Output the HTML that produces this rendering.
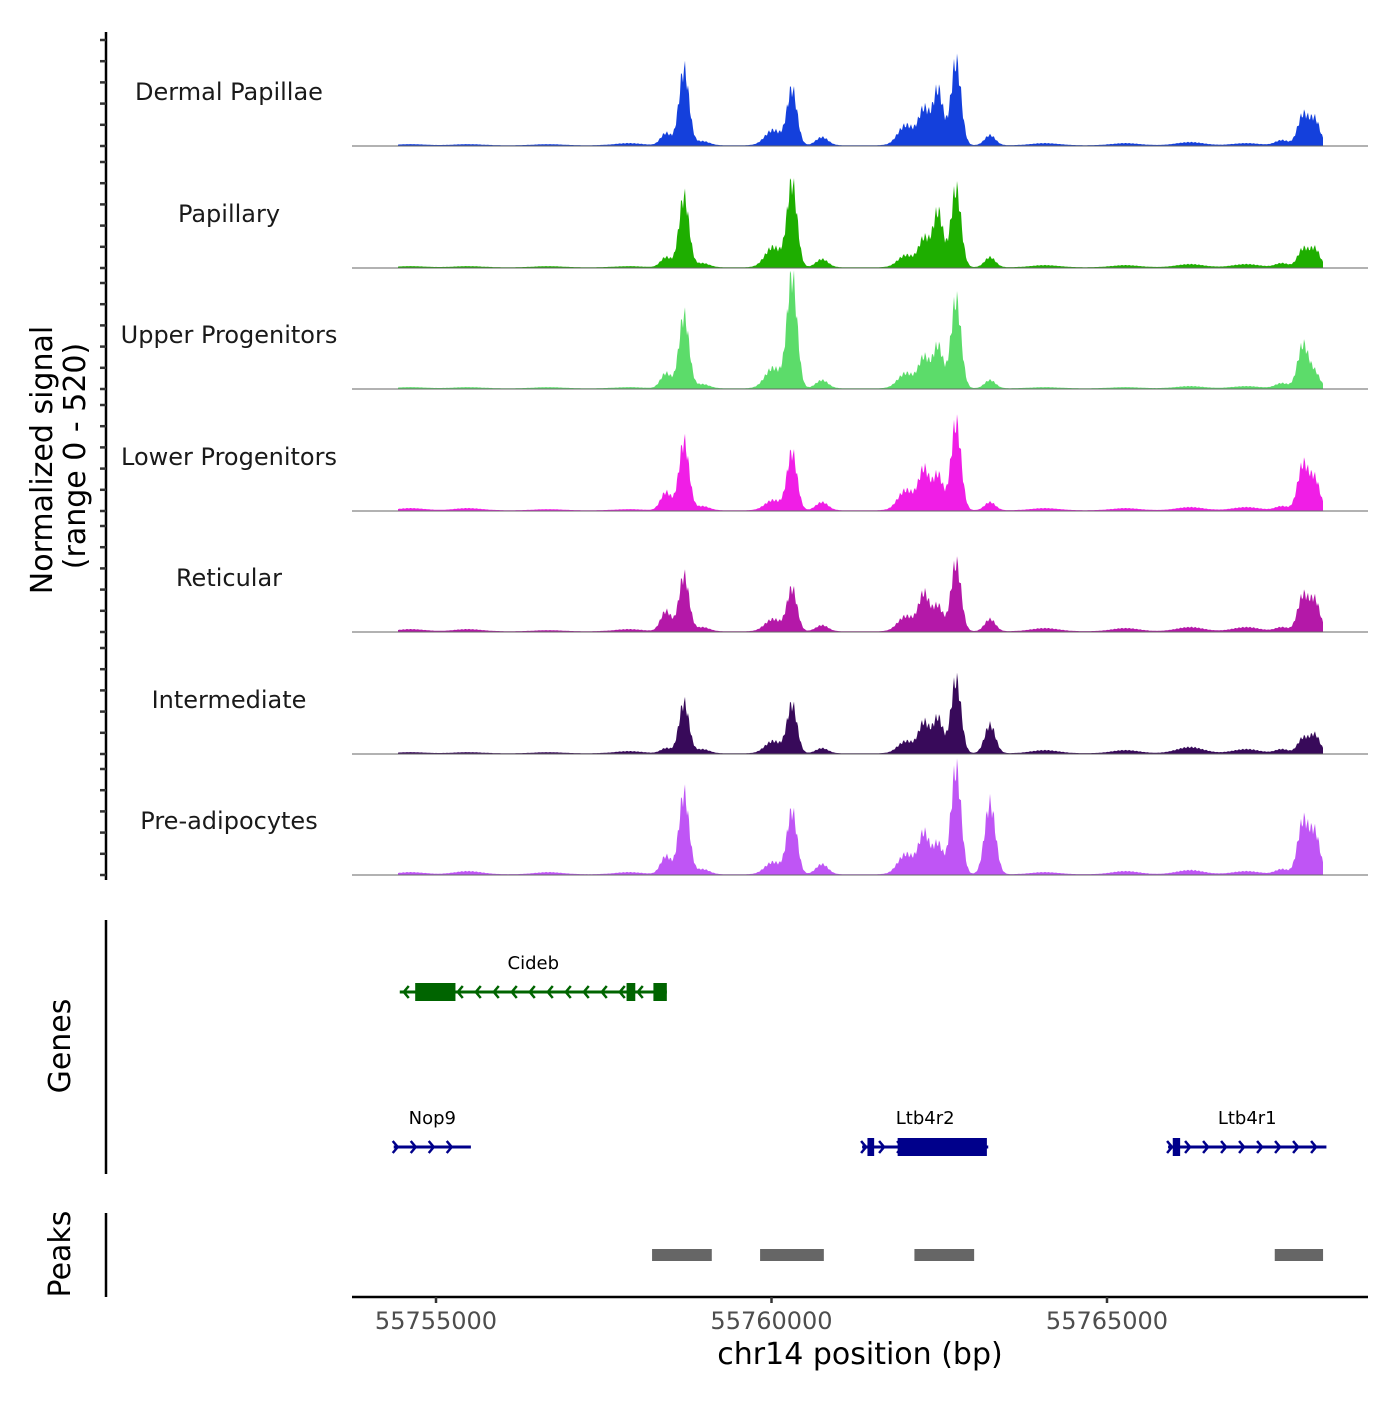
<!DOCTYPE html>
<html><head><meta charset="utf-8"><style>
body{margin:0;background:#fff;}
svg text{font-family:"DejaVu Sans","Liberation Sans",sans-serif;}
</style></head><body>
<svg id="chart" width="1400" height="1400" xmlns="http://www.w3.org/2000/svg">
<g id="tracks"></g>
<g id="genes"></g>
<g id="peaks"></g>
<g id="axes"></g>
</svg>
<script>
const trackNames = ["Dermal Papillae","Papillary","Upper Progenitors","Lower Progenitors","Reticular","Intermediate","Pre-adipocytes"];
const trackColors = ["#1440dc","#1eae00","#5cdc6a","#f01ee6","#b418a8","#380a5a","#bf55f5"];
const peakCenters = [55753075,55754625,55755475,55756675,55757875,55758428,55758696,55758975,55760023,55760306,55760753,55762005,55762273,55762482,55762750,55763257,55764075,55765275,55766237,55767075,55767608,55767921,55768100];
const dermal =  [1,1,1,1,2,12,75,4,15,55,8,20,35,55,83,10,2,2,3,2,5,30,25];
const papillary=[1,1,1,1,1,10,70,4,20,83,8,12,28,55,78,10,2,2,3,3,4,18,18];
const upper =   [1,1,1,1,1,15,72,4,20,110,8,15,30,42,88,8,1,1,2,2,5,43,15];
const lower =   [1,2,2,1,1,18,68,4,10,57,8,20,40,35,87,8,2,2,3,3,4,45,30];
const reticular=[1,2,2,1,2,20,55,4,12,42,6,15,37,25,68,12,3,3,4,4,4,35,30];
const inter =   [1,1,1,1,2,5,50,4,12,48,5,12,30,35,73,28,3,3,6,4,4,15,18];
const preadip = [1,2,3,2,2,18,80,5,12,62,10,20,40,30,105,70,2,3,4,3,5,52,40];
const trackValues=[dermal,papillary,upper,lower,reticular,inter,preadip];
const peakWidths=[200,200,200,200,200,80,75,100,120,75,90,120,80,75,75,80,200,200,200,200,100,80,75];
const genes=[
 {name:"Cideb",start:55754460,end:55758440,strand:-1,row:0,exons:[[55754690,55755290],[55757840,55757970],[55758240,55758440]]},
 {name:"Nop9",start:55754370,end:55755520,strand:1,row:1,exons:[]},
 {name:"Ltb4r2",start:55761350,end:55763230,strand:1,row:1,exons:[[55761430,55761530],[55761880,55763210]]},
 {name:"Ltb4r1",start:55765910,end:55768270,strand:1,row:1,exons:[[55765980,55766090]]}
];
const peakStarts=[55758220,55759830,55762130,55767500];
const peakEnds=[55759110,55760780,55763020,55768220];
const xTicks=[55755000,55760000,55765000];
const xTickLabels=["55755000","55760000","55765000"];

const NS="http://www.w3.org/2000/svg";
const bpPerPx=5000/335.5;
const x=bp=>436+(bp-55755000)/bpPerPx;
const X0=352,X1=1368;
function mk(t,a,p){const e=document.createElementNS(NS,t);for(const k in a)e.setAttribute(k,a[k]);(p||document.getElementById('chart')).appendChild(e);return e;}
const tg=document.getElementById('tracks');
const baselines=[146,268,389,511,632,754,875];
const trackY=(v,i)=>baselines[i]-v;
trackNames.forEach((nm,i)=>{
 const vals=trackValues[i];let d=`M398,${baselines[i]}`;
 for(let px=398;px<=1323;px+=1){
  const bp=55755000+(px-436)*bpPerPx;let s=0.8;
  vals.forEach((h,j)=>{const z=(bp-peakCenters[j])/peakWidths[j];s+=h*Math.exp(-0.5*z*z)*(1+0.15*Math.sin(px*1.7+j));});
  d+=` L${px},${trackY(Math.max(0,s),i).toFixed(1)}`;
 }
 d+=` L1323,${baselines[i]} Z`;
 const p=mk('path',{d:d,fill:trackColors[i]},tg);
 
 
 const l=mk('line',{x1:X0,x2:X1,y1:baselines[i],y2:baselines[i],stroke:'#666','stroke-width':1},tg);
 
 
 const t=mk('text',{x:229,y:baselines[i]-46,'text-anchor':'middle','font-size':24,fill:'#1a1a1a'},tg);
 t.textContent=nm;
 
 
});
const gg=document.getElementById('genes');
genes.forEach(g=>{
 const c=g.strand<0?'#006400':'#00008b';const y=g.row?1147:992;
 const ln=mk('line',{x1:x(g.start),x2:x(g.end),y1:y,y2:y,stroke:c,'stroke-width':3},gg);
 
 
 for(let px=x(g.start)+4;px<=x(g.end)-2;px+=18){
  const dx=g.strand<0?5:-5;
  const a=mk('path',{d:`M${px+dx},${y-6} L${px},${y} L${px+dx},${y+6}`,stroke:c,'stroke-width':2.5,fill:'none'},gg);
  
  
 }
 g.exons.forEach(e=>{const r=mk('rect',{x:x(e[0]),y:y-9,width:x(e[1])-x(e[0]),height:18,fill:c},gg);
  
  });
 const t=mk('text',{x:(x(g.start)+x(g.end))/2,y:y-23,'text-anchor':'middle','font-size':18,fill:'#000'},gg);
 t.textContent=g.name;
 
 
});
const pg=document.getElementById('peaks');
peakStarts.forEach((s,i)=>{const r=mk('rect',{x:x(s),y:1249,width:x(peakEnds[i])-x(s),height:12,fill:'#666'},pg);
 
 });
const ag=document.getElementById('axes');
mk('line',{x1:106,x2:106,y1:32,y2:880,stroke:'#000','stroke-width':2.5},ag);
baselines.forEach(b=>{for(let k=0;k<6;k++){const yy=b-k*21.2;mk('line',{x1:100,x2:106,y1:yy,y2:yy,stroke:'#333','stroke-width':2.5},ag);}});
mk('line',{x1:106,x2:106,y1:920,y2:1174,stroke:'#000','stroke-width':2.5},ag);
mk('line',{x1:106,x2:106,y1:1213,y2:1297,stroke:'#000','stroke-width':2.5},ag);
mk('line',{x1:X0,x2:X1,y1:1297,y2:1297,stroke:'#000','stroke-width':2.5},ag);
xTicks.forEach((v,i)=>{mk('line',{x1:x(v),x2:x(v),y1:1297,y2:1303,stroke:'#333','stroke-width':2.5},ag);
 const t=mk('text',{x:x(v),y:1329,'text-anchor':'middle','font-size':24,fill:'#4d4d4d'},ag);t.textContent=xTickLabels[i];
 
 });
function lab(txt,xx,yy,rot,name,fs){const t=mk('text',{x:xx,y:yy,'text-anchor':'middle','font-size':fs||30,fill:'#000',transform:rot?`rotate(-90 ${xx} ${yy})`:''},ag);t.textContent=txt;return t;}
lab('chr14 position (bp)',860,1364,false,'x-axis-title');
lab('Normalized signal',52,460,true,'y-axis-title');
lab('(range 0 - 520)',85,456,true,'y-axis-subtitle');
lab('Genes',70,1046,true,'genes-axis-title');
lab('Peaks',70,1254,true,'peaks-axis-title');
</script>
</body></html>
